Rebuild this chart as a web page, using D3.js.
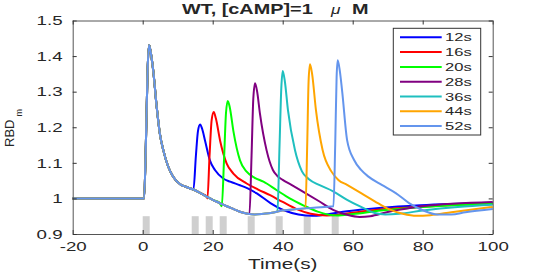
<html>
  <script src="https://d3js.org/d3.v7.min.js"></script>
  <head>
    <meta charset="utf-8">
    <title>WT cAMP</title>
    <style>
      body { margin: 0; background: #fff; }
      text { font-family: "Liberation Sans", Arial, sans-serif; fill: #262626; }
    </style>
  </head>
  <body>
    <svg></svg>
    <script>
      const width = 545;
      const height = 273;
      // text in the picture is stretched sideways
      const stretch = 1.44;

      // shared first pulse (also the start of every series)
      var firstPulse = [[-20,1],[0,1],[0.4,1.0],[0.9,1.15],[1.4,1.36],[1.8,1.432],[2.3,1.41],[3.0,1.36],[4.0,1.257],
        [4.9,1.182],[5.9,1.135],[7.3,1.089],[8.7,1.061],[10.7,1.040],[12.5,1.032],[14.5,1.025],[16.5,1.015],[18.3,1.005],
        [20,0.996],[22,0.987],[24,0.978],[26,0.970],[28,0.962],[30,0.957],[32,0.955],[34,0.956],[36,0.958],[38,0.962],
        [40,0.966],[44,0.970],[48,0.973],[52,0.976],[54.5,0.978]];

      // second pulse, one per interval
      var tail12 = [[14.5,1.025],[15.2,1.12],[15.8,1.19],[16.4,1.208],[17.0,1.195],[17.8,1.163],[19.2,1.107],[20.7,1.079],
        [23,1.056],[25,1.047],[27.8,1.037],[30,1.028],[32.6,1.014],[36.5,0.987],[40.5,0.966],[44.5,0.955],[48.5,0.951],
        [52.4,0.955],[58.4,0.964],[68.3,0.974],[79.3,0.981],[100,0.988]];
      var tail16 = [[18.5,1.0],[19.1,1.12],[19.7,1.22],[20.3,1.243],[20.9,1.225],[22.1,1.163],[24,1.098],[25.9,1.070],
        [29.7,1.042],[33,1.025],[36.4,1.009],[40,0.99],[44,0.97],[48,0.957],[52.6,0.952],[56,0.954],[60,0.96],[68,0.969],
        [80,0.977],[100,0.985]];
      var tail20 = [[22.6,0.978],[23.2,1.1],[23.8,1.24],[24.3,1.274],[24.9,1.255],[25.9,1.19],[27.8,1.107],[29.7,1.075],
        [32,1.058],[34.5,1.047],[38.3,1.023],[42,1.0],[46,0.98],[50,0.963],[55.4,0.952],[60,0.956],[68,0.966],[80,0.976],
        [100,0.986]];
      var tail28 = [[30.5,0.956],[31.1,1.12],[31.6,1.28],[32.1,1.324],[32.7,1.30],[33.5,1.238],[35.4,1.135],[37.2,1.08],
        [38.3,1.065],[40,1.052],[42.5,1.038],[46.5,1.015],[50.4,0.992],[54.4,0.968],[58.4,0.954],[62,0.948],[65,0.95],
        [70,0.962],[80,0.978],[100,0.99]];
      var tail36 = [[38.5,0.963],[39.1,1.15],[39.6,1.31],[40.0,1.358],[40.6,1.33],[41.5,1.248],[43.5,1.136],[45.5,1.076],
        [47.5,1.054],[50.4,1.038],[54.4,1.02],[58.4,0.996],[62.4,0.976],[66.3,0.959],[69.3,0.955],[73.3,0.957],[80,0.966],
        [90,0.976],[100,0.982]];
      var tail44 = [[46.5,0.972],[47.0,1.15],[47.4,1.33],[47.8,1.377],[48.4,1.35],[49.5,1.248],[51.4,1.136],[53.9,1.076],
        [55.9,1.052],[58.4,1.038],[62.4,1.015],[66.3,0.992],[70.3,0.97],[74.3,0.957],[78.3,0.951],[82.2,0.953],[88.2,0.961],
        [100,0.976]];
      var tail52 = [[54.5,0.978],[55.0,1.15],[55.4,1.34],[55.7,1.388],[56.3,1.36],[57.0,1.30],[58.4,1.164],[60.4,1.108],
        [62.4,1.08],[64.4,1.062],[68.3,1.038],[72.3,1.015],[76.1,0.987],[80.2,0.966],[84.2,0.955],[88.2,0.955],[92.2,0.961],
        [100,0.97]];

      var seriesNames = ["12s", "16s", "20s", "28s", "36s", "44s", "52s"];
      var seriesTails = [tail12, tail16, tail20, tail28, tail36, tail44, tail52];
      var seriesColors = ["#0000ff", "#ff0000", "#00ff00", "#800080", "#1fbfbf", "#ffa500", "#6495ed"];

      // stimulus bars [start, end]
      var pulses = [[0,2],[14,16],[18,20],[22,24],[30,32],[38,40],[46,48],[54,56]];

      var xTicks = [-20, 0, 20, 40, 60, 80, 100];
      var yTicks = [0.9, 1, 1.1, 1.2, 1.3, 1.4, 1.5];

      var svg = d3.select("svg").attr("width", width).attr("height", height);

      var x = d3.scaleLinear().domain([-20, 100]).range([72.7, 492.7]);
      var y = d3.scaleLinear().domain([0.9, 1.5]).range([234, 20.5]);

      // gray stimulus bars
      svg.append("g").selectAll("rect")
        .data(pulses)
        .enter().append("rect")
        .attr("x", function(d) { return x(d[0]); })
        .attr("width", function(d) { return x(d[1]) - x(d[0]); })
        .attr("y", y(0.95))
        .attr("height", y(0.9) - y(0.95))
        .attr("fill", "#cfcfcf");

      var line = d3.line()
        .x(function(d) { return x(d[0]); })
        .y(function(d) { return y(d[1]); })
        .curve(d3.curveMonotoneX);

      seriesTails.forEach(function(tail, i) {
        var start = tail[0][0];
        var data = firstPulse.filter(function(d) { return d[0] < start; }).concat(tail);
        svg.append("path")
          .datum(data)
          .attr("fill", "none")
          .attr("stroke", seriesColors[i])
          .attr("stroke-width", 2)
          .attr("d", line);
      });

      // axes, MATLAB style: ticks inside, box all round
      var fmt = function(d) { return String(+d.toFixed(1)); };
      var bottom = svg.append("g").attr("transform", "translate(0," + y(0.9) + ")")
        .call(d3.axisBottom(x).tickValues(xTicks).tickFormat(fmt).tickSizeInner(-4).tickSizeOuter(0).tickPadding(8));
      var left = svg.append("g").attr("transform", "translate(" + x(-20) + ",0)")
        .call(d3.axisLeft(y).tickValues(yTicks).tickFormat(fmt).tickSizeInner(-4).tickSizeOuter(0).tickPadding(7));
      svg.append("g").attr("transform", "translate(0," + y(1.5) + ")")
        .call(d3.axisTop(x).tickValues(xTicks).tickSizeInner(-4).tickSizeOuter(0).tickFormat(""));
      svg.append("g").attr("transform", "translate(" + x(100) + ",0)")
        .call(d3.axisRight(y).tickValues(yTicks).tickSizeInner(-4).tickSizeOuter(0).tickFormat(""));

      svg.selectAll(".domain").attr("stroke", "#555");
      svg.selectAll(".tick line").attr("stroke", "#333");
      svg.selectAll(".tick text")
        .style("font-family", '"Liberation Sans", Arial, sans-serif')
        .style("font-size", "13px")
        .attr("fill", "#262626")
        .attr("transform", "scale(" + stretch + ",1)");

      // legend
      var legend = svg.append("g");
      legend.append("rect")
        .attr("x", 393.3).attr("y", 28.3)
        .attr("width", 87.4).attr("height", 106.7)
        .attr("fill", "#fff").attr("stroke", "#333").attr("stroke-width", 1);
      seriesNames.forEach(function(name, i) {
        var ly = 37.3 + i * 14.8;
        legend.append("line")
          .attr("x1", 400).attr("x2", 441.7)
          .attr("y1", ly).attr("y2", ly)
          .attr("stroke", seriesColors[i]).attr("stroke-width", 2);
        legend.append("text")
          .attr("transform", "translate(445," + ly + ") scale(" + stretch + ",1)")
          .attr("dy", "0.36em")
          .style("font-size", "11.5px")
          .text(name);
      });

      // title
      svg.append("text")
        .attr("transform", "translate(182,14) scale(" + stretch + ",1)")
        .style("font-size", "13.8px").style("font-weight", "bold")
        .text("WT, [cAMP]=1");
      svg.append("text")
        .attr("transform", "translate(331,14) scale(" + stretch + ",1)")
        .style("font-size", "12px").style("font-style", "italic")
        .text("\u03bc");
      svg.append("text")
        .attr("transform", "translate(352,14) scale(" + stretch + ",1)")
        .style("font-size", "13.8px").style("font-weight", "bold")
        .text("M");

      // x label
      svg.append("text")
        .attr("transform", "translate(282.7,268.5) scale(1.48,1)")
        .attr("text-anchor", "middle")
        .style("font-size", "14px")
        .text("Time(s)");

      // y label with subscript
      var yl = svg.append("text")
        .attr("transform", "translate(14,147) rotate(-90)")
        .style("font-size", "13px");
      yl.append("tspan").text("RBD");
      yl.append("tspan").attr("dy", 8).style("font-size", "9px").attr("dx", 3).text("m");
    </script>
  </body>
</html>
